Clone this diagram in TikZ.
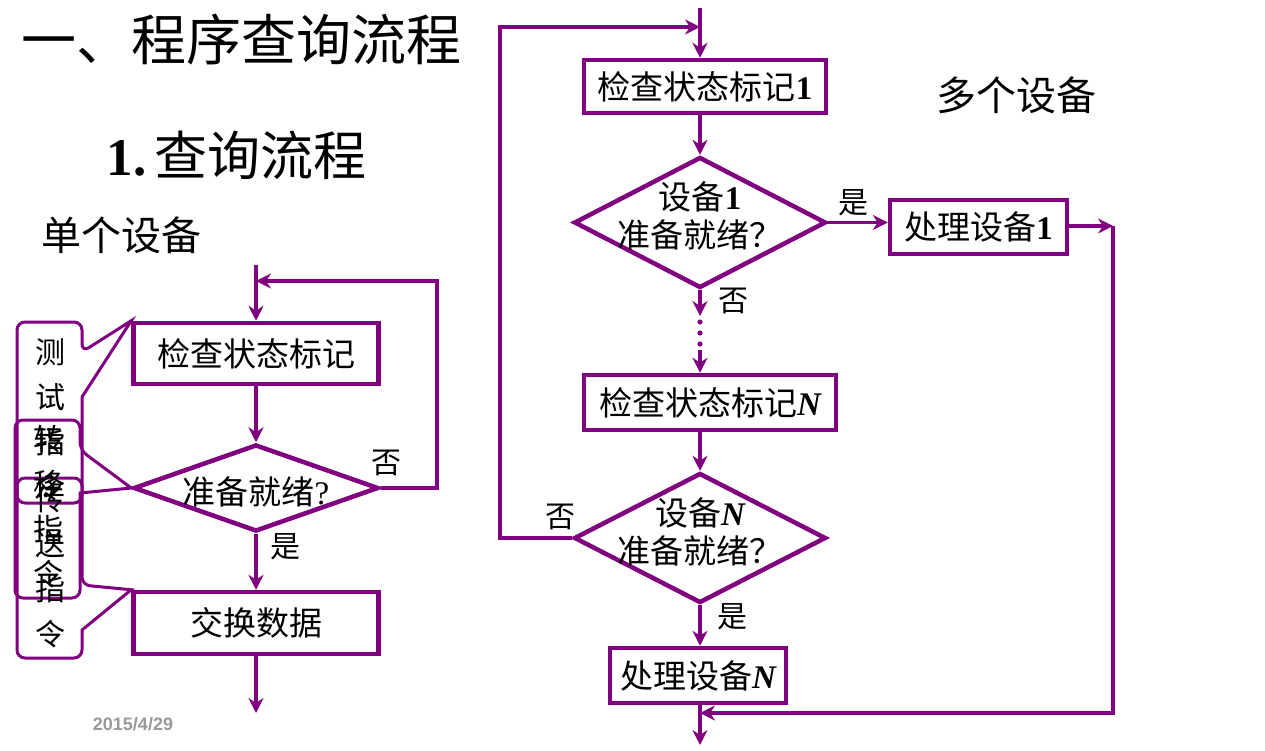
\documentclass[tikz,border=0pt]{standalone}
\usepackage{fontspec}
\setmainfont{Liberation Serif}
\newfontfamily\cjk{Noto Sans CJK SC}
\newfontfamily\datefont{Liberation Sans}
\usetikzlibrary{shapes.geometric,arrows.meta}
\definecolor{pur}{RGB}{128,0,128}
\begin{document}
\begin{tikzpicture}[x=1pt,y=-1pt,
 box/.style={draw=pur,line width=4.5pt,rectangle,inner sep=0pt,font=\fontsize{33}{38}\selectfont\cjk},
 diam/.style={draw=pur,line width=4.5pt,diamond,inner sep=0pt},
 dtext/.style={align=center,font=\fontsize{33}{38}\selectfont\cjk},
 conn/.style={draw=pur,line width=3.5pt},
 arr/.style={conn,-{Stealth[length=15pt,width=15pt,inset=5pt]}},
 lab/.style={font=\fontsize{30}{30}\selectfont\cjk},
 callout/.style={draw=pur,line width=3pt},
 ctext/.style={align=center,font=\fontsize{30}{45}\selectfont\cjk},
]
\useasboundingbox (0,0) rectangle (1265,751);
\fill[white] (0,0) rectangle (1265,751);

% titles
\node[anchor=west,font=\fontsize{55}{55}\selectfont\cjk] (title) at (18,40) {一、程序查询流程};
\node[anchor=west,font=\fontsize{53}{53}\selectfont\cjk] (sub) at (103,155) {{\rmfamily\bfseries 1.}\hspace{8pt}查询流程};
\node[anchor=west,font=\fontsize{40}{40}\selectfont\cjk] (single) at (38,235) {单个设备};
\node[font=\fontsize{40}{40}\selectfont\cjk] (multi) at (1016,95) {多个设备};

% ---------- left flowchart ----------
\node[box,minimum width=245,minimum height=61] (b1) at (256,353.5) {检查状态标记};
\node[diam,minimum width=245,minimum height=87] (d1) at (256,488) {};
\node[dtext] (d1t) at (256,492) {准备就绪{\rmfamily ?}};
\node[box,minimum width=245,minimum height=62] (b2) at (256,623) {交换数据};
\coordinate (lin) at (256,265);
\coordinate (lout) at (256,713);
\coordinate (lr) at (437,281);
\draw[arr] (lin) -- (b1.north);
\draw[arr] (b1.south) -- (d1.north);
\draw[arr] (d1.south) -- (b2.north);
\draw[arr] (b2.south) -- (lout);
\draw[arr] (d1.east) -- (d1.east -| lr) -- (lr) -- (lr -| lin);
\node[lab] (no1) at (386,463) {否};
\node[lab] (yes1) at (285,547) {是};

% callouts
\draw[callout,rounded corners=8pt] (50,503) -- (17,503) -- (17,322) -- (82,322) -- (82,352) [sharp corners] -- (b1.north west) -- (82,397) [rounded corners=8pt] -- (82,503) -- cycle;
\draw[callout,rounded corners=8pt] (47,598) -- (15,598) -- (15,420) -- (80,420) -- (80,450) [sharp corners] -- (d1.west) -- (80,493) [rounded corners=8pt] -- (80,598) -- cycle;
\draw[callout,rounded corners=8pt] (50,658) -- (17,658) -- (17,478) -- (82,478) -- (82,585) [sharp corners] -- (b2.north west) -- (82,630) [rounded corners=8pt] -- (82,658) -- cycle;
\node[ctext] (ta) at (50,420) {测\\试\\指\\令};
\node[ctext] (tb) at (48,507) {转\\移\\指\\令};
\node[ctext] (tc) at (50,567) {传\\送\\指\\令};

\node[font=\fontsize{18}{18}\selectfont\datefont\bfseries,text=black!40] (date) at (133,724) {2015/4/29};

% ---------- right flowchart ----------
\node[box,minimum width=242,minimum height=53] (r1) at (705,86.5) {检查状态标记{\rmfamily\bfseries 1}};
\node[diam,minimum width=252,minimum height=131] (rd1) at (700,222.5) {};
\node[dtext] (rd1t) at (700,216) {设备{\rmfamily\bfseries 1}\\准备就绪？};
\node[box,minimum width=177,minimum height=54] (rp1) at (978.5,227) {处理设备{\rmfamily\bfseries 1}};
\node[box,minimum width=252,minimum height=55] (rN) at (710,402.5) {检查状态标记{\rmfamily\bfseries\itshape N}};
\node[diam,minimum width=252,minimum height=130] (rdN) at (700,538) {};
\node[dtext] (rdNt) at (700,532) {设备{\rmfamily\bfseries\itshape N}\\准备就绪？};
\node[box,minimum width=176,minimum height=55] (rpN) at (698,675.5) {处理设备{\rmfamily\bfseries\itshape N}};

\coordinate (rin) at (700,8);
\coordinate (rout) at (700,745);
\coordinate (rc) at (1113,226);
\coordinate (rb) at (1113,713);
\coordinate (lp) at (500,27);
\coordinate (dend) at (700,316);
\coordinate (dstart) at (700,350);

\draw[arr] (rin) -- (rin |- r1.north);
\draw[arr] (rin |- r1.south) -- (rd1.north);
\draw[arr] (rd1.east) -- (rd1.east -| rp1.west);
\draw[arr] (rp1.east |- rc) -- (rc);
\draw[arr] (rc) -- (rb) -- (rb -| rout);
\draw[arr] (rd1.south) -- (dend);
\foreach \yy in {322,333,344} \fill[pur] (700,\yy) circle (2.6pt);
\draw[arr] (dstart) -- (dstart |- rN.north);
\draw[arr] (rdN.north |- rN.south) -- (rdN.north);
\draw[arr] (rdN.south) -- (rdN.south |- rpN.north);
\draw[arr] (rdN.south |- rpN.south) -- (rout);
\draw[arr] (rdN.west) -- (rdN.west -| lp) -- (lp) -- (lp -| rin);

\node[lab] (yes2) at (853,203) {是};
\node[lab] (no2) at (733,301) {否};
\node[lab] (no3) at (560,517) {否};
\node[lab] (yes3) at (732,617) {是};
\end{tikzpicture}
\end{document}
